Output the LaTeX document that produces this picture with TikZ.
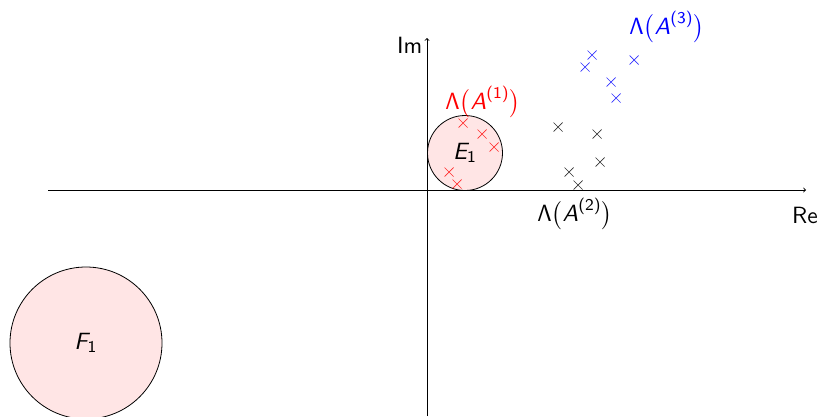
\documentclass[tikz,border=0pt]{standalone}
\renewcommand{\familydefault}{\sfdefault}
\newcommand{\eigset}[1]{$\mathsf{\Lambda}\bigl(\textsl{A}^{\mbox{\scriptsize(#1)}}\bigr)$}
\begin{document}
\begin{tikzpicture}[x=1pt,y=-1pt,
  ax/.style={line width=0.9pt,->},
  disc/.style={draw=black,line width=0.8pt,fill=red!10},
  lbl/.style={scale=2.35,inner sep=0.5pt},
  cross/.style={draw,line width=0.7pt},
]
\useasboundingbox (0,0) rectangle (821,416);
\tikzset{mk/.pic={\draw[cross] (-4.5,-4.5) -- (4.5,4.5) (-4.5,4.5) -- (4.5,-4.5);}}
% discs
\node[disc,circle,minimum size=75pt,inner sep=0pt] (E) at (465,153) {};
\node[disc,circle,minimum size=152pt,inner sep=0pt] (F) at (86,343) {};
\node[lbl] (Elbl) at (E) {$\textsl{E}_{\mathsf{1}}$};
\node[lbl] (Flbl) at (F) {$\textsl{F}_{\mathsf{1}}$};
% axes
\coordinate (xs) at (48,190);
\coordinate (xe) at (806,190);
\coordinate (ys) at (427,416);
\coordinate (ye) at (427,38);
\draw[ax] (xs) -- (xe);
\draw[ax] (ys) -- (ye);
\node[lbl,anchor=east] (im) at (424,45) {Im};
\node[lbl,anchor=north] (re) at (805,206) {Re};
% eigenvalues
\foreach \p in {(463,123),(482,134),(494,147),(449,172),(457,184)}
  \pic[red,opacity=0.8] at \p {mk};
\foreach \p in {(592,55),(585,67),(634,60),(611,82),(616,98)}
  \pic[blue,opacity=0.8] at \p {mk};
\foreach \p in {(558,127),(597,134),(600,162),(569,172),(578,185)}
  \pic[black,opacity=0.8] at \p {mk};
% labels
\node[lbl,red] (l1) at (483,102) {\eigset{1}};
\node[lbl,blue] (l3) at (667,27) {\eigset{3}};
\node[lbl,black] (l2) at (575,214) {\eigset{2}};
\end{tikzpicture}
\end{document}
